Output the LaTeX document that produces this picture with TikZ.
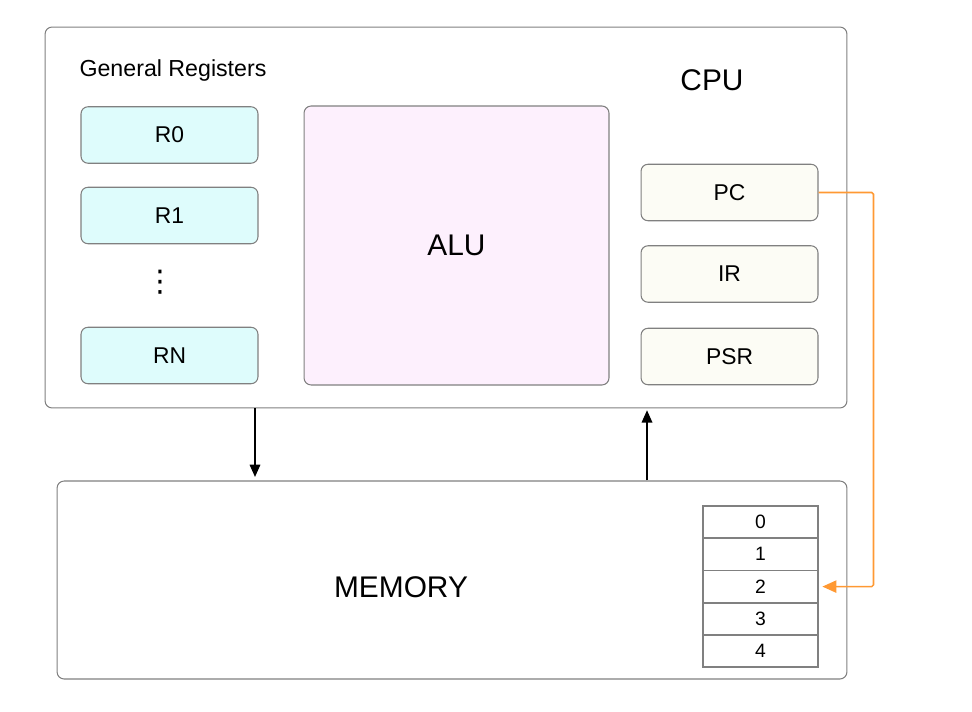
\documentclass[tikz,border=0pt]{standalone}
\usepackage{fontspec}
\setmainfont{Liberation Sans}
\newfontfamily\symfont{DejaVu Sans}
\usepackage{tikz}
\usetikzlibrary{positioning,calc}
\usetikzlibrary{arrows.meta}
\definecolor{RegCyan}{RGB}{222,252,252}
\definecolor{AluPink}{RGB}{253,240,253}
\definecolor{CtlIvory}{RGB}{252,252,245}
\definecolor{EdgeGray}{RGB}{128,128,128}
\definecolor{PcOrange}{RGB}{255,153,51}
\tikzset{
  unit/.style={draw=EdgeGray,line width=0.6pt,rounded corners=4pt},
  outer/.style={unit,minimum width=#1},
  reg/.style={unit,fill=RegCyan,minimum width=3.54cm,minimum height=1.13cm,font=\fontsize{13}{15}\selectfont},
  ctl/.style={unit,fill=CtlIvory,minimum width=3.54cm,minimum height=1.13cm,font=\fontsize{13}{15}\selectfont},
  cell/.style={draw=EdgeGray,line width=1pt,minimum width=2.3cm,minimum height=0.646cm,inner sep=0pt,font=\fontsize{11}{13}\selectfont},
  bus/.style={draw=black,line width=0.9pt,-{Triangle[length=7pt,width=6pt]}},
  ptr/.style={draw=PcOrange,line width=0.9pt,-{Triangle[length=8pt,width=7pt]}},
}
\tikzset{big/.style={font=\fontsize{17}{20}\selectfont}, caption/.style={font=\fontsize{13.2}{15}\selectfont}}
\begin{document}
\begin{tikzpicture}[x=0.02cm,y=-0.02cm]
\useasboundingbox (0,0) rectangle (972,712);
% cpu and memory
\node[outer=16.04cm,minimum height=7.62cm,unit] (cpu) at (446,217.5) {};
\node[outer=15.8cm,minimum height=3.96cm,unit] (mem) at (452,580) {};
\node[big] (cpulab) at (712,80) {CPU};
\node[big] (memlab) at (401,587) {MEMORY};
% registers
\node[caption] (genlab) at (173,71) {General Registers};
\node[reg] (r0) at (169.5,135) {R0};
\node[reg] (r1) at (169.5,215.5) {R1};
\node[font=\symfont\fontsize{17}{20}\selectfont] (rdots) at (160,282) {⋮};
\node[reg] (rn) at (169.5,355.5) {RN};
\node[unit,fill=AluPink,minimum width=6.1cm,minimum height=5.58cm,big] (alu) at (456.5,245.5) {ALU};
\node[ctl] (pc) at (729.5,192.5) {PC};
\node[ctl] (ir) at (729.5,274) {IR};
\node[ctl] (psr) at (729.5,356.5) {PSR};
% memory cells
\foreach \i in {0,...,4}
  \node[cell] (c\i) at (760.5,522+32.3*\i) {\i};
% buses
\coordinate (busdn) at (255,0);
\coordinate (busup) at (647,0);
\draw[bus] (cpu.south -| busdn) -- ([yshift=2pt]mem.north -| busdn);
\draw[bus] (mem.north -| busup) -- ([yshift=-1pt]cpu.south -| busup);
\draw[ptr,rounded corners=1pt] (pc.east) -- ++(55,0) |- ([xshift=2pt]c2.east);
\end{tikzpicture}
\end{document}
